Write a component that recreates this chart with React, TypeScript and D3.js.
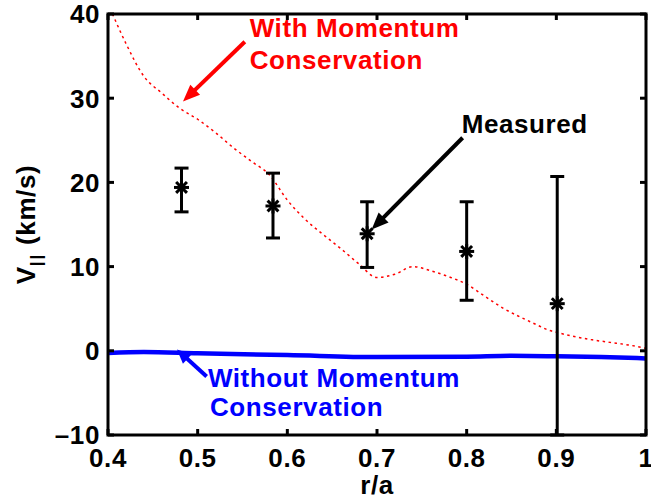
import React from 'react';
import * as d3 from 'd3';

// measured points (r/a, V||, lower, upper)
const measX = [0.482, 0.584, 0.689, 0.8, 0.901];
const measV = [19.4, 17.2, 13.9, 11.8, 5.6];
const measLo = [16.5, 13.4, 9.9, 6.0, -10];
const measHi = [21.7, 21.1, 17.7, 17.7, 20.7];

// model with momentum conservation (red dotted)
const withX = [0.405, 0.42, 0.44, 0.46, 0.48, 0.5, 0.52, 0.54, 0.56, 0.58, 0.6, 0.62, 0.64, 0.66, 0.68, 0.7, 0.72, 0.74, 0.76, 0.78, 0.8, 0.82, 0.84, 0.86, 0.88, 0.89, 0.9, 0.92, 0.94, 0.96, 0.98, 1.0];
const withV = [40.0, 36.5, 32.6, 30.6, 28.8, 27.5, 25.9, 24.1, 22.5, 20.9, 17.9, 15.6, 13.8, 12.1, 10.3, 8.7, 9.1, 10.0, 9.5, 8.8, 7.9, 6.5, 5.1, 4.0, 3.0, 2.5, 2.2, 1.7, 1.3, 1.0, 0.7, 0.3];

// model without momentum conservation (blue solid)
const withoutX = [0.4, 0.44, 0.5, 0.6, 0.7, 0.8, 0.85, 0.9, 0.95, 1.0];
const withoutV = [-0.25, -0.15, -0.3, -0.5, -0.75, -0.7, -0.6, -0.65, -0.75, -0.9];

const xTicks = [0.4, 0.5, 0.6, 0.7, 0.8, 0.9, 1];
const xTickLabels = ['0.4', '0.5', '0.6', '0.7', '0.8', '0.9', '1'];
const yTicks = [-10, 0, 10, 20, 30, 40];
const yTickLabels = ['\u201310', '0', '10', '20', '30', '40'];

const FONT = '"Liberation Sans", Arial, Helvetica, sans-serif';

const W = 651, H = 500;
const box = { left: 108, right: 646, top: 14, bottom: 435 };

const x = d3.scaleLinear().domain([0.4, 1]).range([box.left, box.right]);
const y = d3.scaleLinear().domain([-10, 40]).range([box.bottom, box.top]);

const Arrow = ({ x1, y1, x2, y2, color, lw, hl, hw }) => {
  const a = Math.atan2(y2 - y1, x2 - x1);
  const bx = x2 - hl * Math.cos(a), by = y2 - hl * Math.sin(a);
  const px = -Math.sin(a) * hw / 2, py = Math.cos(a) * hw / 2;
  return (
    <g>
      <line x1={x1} y1={y1} x2={bx + Math.cos(a) * 2} y2={by + Math.sin(a) * 2} stroke={color} strokeWidth={lw} />
      <polygon points={`${x2},${y2} ${bx + px},${by + py} ${bx - px},${by - py}`} fill={color} />
    </g>
  );
};

const Star = ({ cx, cy, r }) => {
  const d = r * 0.72;
  return (
    <g stroke="#000" strokeWidth={3}>
      <line x1={cx - r} y1={cy} x2={cx + r} y2={cy} />
      <line x1={cx} y1={cy - r} x2={cx} y2={cy + r} />
      <line x1={cx - d} y1={cy - d} x2={cx + d} y2={cy + d} />
      <line x1={cx - d} y1={cy + d} x2={cx + d} y2={cy - d} />
    </g>
  );
};

export default function App() {
  const withLine = d3.line<number>().x((d, i) => x(withX[i])).y(d => y(d)).curve(d3.curveMonotoneX)(withV);
  const withoutLine = d3.line<number>().x((d, i) => x(withoutX[i])).y(d => y(d)).curve(d3.curveMonotoneX)(withoutV);
  const ann = { fontSize: 26, letterSpacing: 0.6 };

  return (
    <svg width={W} height={H} style={{ position: 'absolute', left: 0, top: 0, background: '#fff' }} fontFamily={FONT} fontWeight="bold">
      {/* curves */}
      <path d={withLine} fill="none" stroke="#ff0000" strokeWidth={1.5} strokeDasharray="2.5,3.5" />
      <path d={withoutLine} fill="none" stroke="#0000ff" strokeWidth={4.5} />

      {/* error bars */}
      {measX.map((mx, i) => {
        const cx = x(mx);
        return (
          <g key={i} stroke="#000" strokeWidth={3}>
            <line x1={cx} x2={cx} y1={y(measLo[i])} y2={y(measHi[i])} />
            <line x1={cx - 7} x2={cx + 7} y1={y(measHi[i])} y2={y(measHi[i])} />
            <line x1={cx - 7} x2={cx + 7} y1={y(measLo[i])} y2={y(measLo[i])} />
            <Star cx={cx} cy={y(measV[i])} r={7.5} />
          </g>
        );
      })}

      {/* frame and ticks */}
      <rect x={box.left} y={box.top} width={box.right - box.left} height={box.bottom - box.top} fill="none" stroke="#000" strokeWidth={3} />
      {xTicks.map((t, i) => (
        <g key={'x' + i}>
          <line x1={x(t)} x2={x(t)} y1={box.bottom} y2={box.bottom - 6} stroke="#000" strokeWidth={3} />
          <line x1={x(t)} x2={x(t)} y1={box.top} y2={box.top + 6} stroke="#000" strokeWidth={3} />
          <text x={x(t)} y={467} textAnchor="middle" {...ann} fill="#000">{xTickLabels[i]}</text>
        </g>
      ))}
      {yTicks.map((t, i) => (
        <g key={'y' + i}>
          <line x1={box.left} x2={box.left + 6} y1={y(t)} y2={y(t)} stroke="#000" strokeWidth={3} />
          <line x1={box.right} x2={box.right - 6} y1={y(t)} y2={y(t)} stroke="#000" strokeWidth={3} />
          <text x={100} y={y(t)} dy="0.36em" textAnchor="end" {...ann} fill="#000">{yTickLabels[i]}</text>
        </g>
      ))}

      {/* axis labels */}
      <text x={x(0.7)} y={494} textAnchor="middle" {...ann} fill="#000">r/a</text>
      <text transform={`translate(35,${(box.top + box.bottom) / 2}) rotate(-90)`} textAnchor="middle" {...ann} fill="#000">
        V<tspan dy={7} fontSize={17} letterSpacing={2}>||</tspan><tspan dy={-7}> (km/s)</tspan>
      </text>

      {/* annotations */}
      <Arrow x1={x(0.5526)} y1={y(36.7)} x2={x(0.4836)} y2={y(29.6)} color="#ff0000" lw={4} hl={17} hw={14} />
      <text x={x(0.558)} y={y(37.3)} {...ann} fill="#ff0000">With Momentum</text>
      <text x={x(0.558)} y={y(33.5)} {...ann} fill="#ff0000">Conservation</text>

      <Arrow x1={x(0.7955)} y1={y(25.3)} x2={x(0.694)} y2={y(14.4)} color="#000" lw={4} hl={17} hw={14} />
      <text x={x(0.7944)} y={y(25.9)} {...ann} fill="#000">Measured</text>

      <Arrow x1={x(0.51)} y1={y(-3.05)} x2={x(0.4769)} y2={y(0.15)} color="#0000ff" lw={4} hl={14} hw={13} />
      <text x={x(0.5114)} y={y(-4.25)} {...ann} fill="#0000ff">Without Momentum</text>
      <text x={x(0.5137)} y={y(-7.8)} {...ann} fill="#0000ff">Conservation</text>
    </svg>
  );
}
